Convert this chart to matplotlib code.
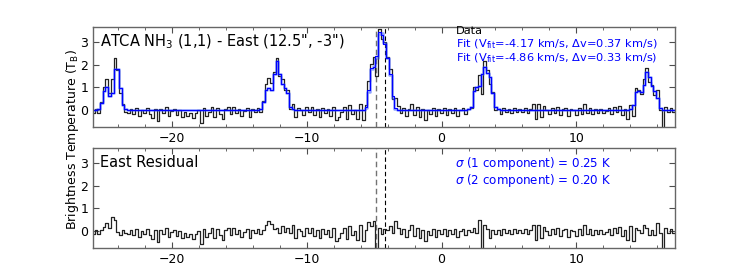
import numpy as np
import matplotlib
matplotlib.use("Agg")
import matplotlib.pyplot as plt
from matplotlib.ticker import MultipleLocator

# channel grid (km/s)
v_start = -25.8
v_step = 0.2
n_chan = 216

data = [
    -0.15, 0.02, -0.13, 0.35, 1.03, 1.35, 0.74, 1.37, 2.30, 1.75,
    0.75, 0.25, -0.08, -0.15, 0.05, -0.20, 0.10, -0.25, 0.00, -0.12,
    0.10, -0.18, -0.35, 0.02, -0.50, 0.05, -0.15, 0.12, -0.25, -0.05,
    0.05, -0.22, 0.00, -0.30, -0.10, -0.25, -0.12, -0.35, -0.15, 0.00,
    -0.60, 0.08, -0.25, -0.10, 0.12, -0.30, 0.10, -0.18, -0.40, 0.02,
    0.12, -0.20, 0.15, -0.12, 0.05, -0.25, -0.05, 0.10, -0.30, 0.05,
    -0.10, 0.10, -0.10, 0.40, 1.15, 1.40, 1.20, 1.70, 2.30, 1.50,
    1.35, 0.90, 0.90, 0.05, 0.27, -0.30, 0.08, 0.00, -0.22, 0.15,
    -0.10, 0.12, -0.22, 0.02, -0.30, 0.08, -0.15, 0.05, -0.25, 0.15,
    -0.45, -0.30, -0.10, 0.12, -0.38, 0.20, -0.20, 0.00, -0.40, 0.25,
    -0.45, 0.20, 1.30, 2.05, 2.35, 1.50, 3.60, 3.15, 3.00, 2.35,
    1.80, 0.50, 0.53, 0.16, -0.12, 0.08, -0.28, 0.02, 0.25, -0.22,
    0.12, -0.32, 0.05, -0.45, 0.00, -0.18, 0.08, -0.28, 0.02, -0.12,
    0.08, -0.22, 0.05, -0.12, 0.10, -0.28, 0.00, 0.08, -0.18, 0.05,
    0.10, 1.00, 0.90, 1.55, 0.70, 2.15, 1.75, 1.15, 0.80, 0.00,
    0.05, -0.18, 0.08, -0.10, 0.05, -0.15, 0.08, -0.10, 0.02, -0.08,
    0.08, -0.12, 0.02, 0.28, -0.40, 0.28, -0.32, 0.18, 0.00, -0.18,
    0.08, -0.12, 0.12, -0.22, 0.02, 0.08, -0.28, 0.05, 0.00, -0.22,
    0.10, -0.18, 0.28, -0.12, 0.08, -0.18, 0.02, -0.12, 0.05, -0.12,
    -0.05, 0.08, -0.18, 0.12, -0.10, 0.18, -0.22, 0.02, -0.40, 0.22,
    -0.25, 0.95, 0.90, 0.70, 1.35, 1.85, 1.25, 1.10, 0.65, 0.90,
    0.00, -0.89, 0.12, -0.10, 0.08, -0.10,
]

# one-component fit (V=-4.17 km/s)
fit1 = [
    0, 0, 0.02, 0.30, 0.85, 1.00, 0.62, 0.75, 1.80, 1.80,
    0.95, 0.20, 0.02, 0, 0, 0, 0, 0, 0, 0,
    0, 0, 0, 0, 0, 0, 0, 0, 0, 0,
    0, 0, 0, 0, 0, 0, 0, 0, 0, 0,
    0, 0, 0, 0, 0, 0, 0, 0, 0, 0,
    0, 0, 0, 0, 0, 0, 0, 0, 0, 0,
    0, 0, 0.02, 0.35, 0.90, 0.95, 0.90, 1.60, 2.15, 1.60,
    1.15, 0.95, 0.75, 0.15, 0.02, 0, 0, 0, 0, 0,
    0, 0, 0, 0, 0, 0, 0, 0, 0, 0,
    0, 0, 0, 0, 0, 0, 0, 0, 0, 0,
    0, 0.10, 0.80, 1.80, 1.95, 2.30, 3.35, 3.40, 2.95, 2.30,
    1.55, 0.55, 0.06, 0.01, 0, 0, 0, 0, 0, 0,
    0, 0, 0, 0, 0, 0, 0, 0, 0, 0,
    0, 0, 0, 0, 0, 0, 0, 0, 0, 0.02,
    0.15, 0.85, 1.00, 1.05, 1.60, 1.90, 1.65, 1.45, 0.75, 0.15,
    0.02, 0, 0, 0, 0, 0, 0, 0, 0, 0,
    0, 0, 0, 0, 0, 0, 0, 0, 0, 0,
    0, 0, 0, 0, 0, 0, 0, 0, 0, 0,
    0, 0, 0, 0, 0, 0, 0, 0, 0, 0,
    0, 0, 0, 0, 0, 0, 0, 0, 0, 0.02,
    0.20, 0.80, 0.85, 0.80, 1.10, 1.70, 1.45, 1.05, 0.85, 0.55,
    0.10, 0.01, 0, 0, 0, 0,
]

# two-component fit (V=-4.86 km/s)
fit2 = [
    0, 0, 0.02, 0.30, 0.85, 1.00, 0.62, 0.75, 1.80, 1.80,
    0.95, 0.20, 0.02, 0, 0, 0, 0, 0, 0, 0,
    0, 0, 0, 0, 0, 0, 0, 0, 0, 0,
    0, 0, 0, 0, 0, 0, 0, 0, 0, 0,
    0, 0, 0, 0, 0, 0, 0, 0, 0, 0,
    0, 0, 0, 0, 0, 0, 0, 0, 0, 0,
    0, 0, 0.02, 0.35, 0.90, 0.95, 0.90, 1.60, 2.15, 1.60,
    1.15, 0.95, 0.75, 0.15, 0.02, 0, 0, 0, 0, 0,
    0, 0, 0, 0, 0, 0, 0, 0, 0, 0,
    0, 0, 0, 0, 0, 0, 0, 0, 0, 0,
    0, 0.15, 0.90, 1.85, 1.90, 2.40, 3.45, 3.30, 2.90, 2.30,
    1.60, 0.60, 0.08, 0.01, 0, 0, 0, 0, 0, 0,
    0, 0, 0, 0, 0, 0, 0, 0, 0, 0,
    0, 0, 0, 0, 0, 0, 0, 0, 0, 0.02,
    0.15, 0.85, 1.00, 1.05, 1.60, 1.90, 1.65, 1.45, 0.75, 0.15,
    0.02, 0, 0, 0, 0, 0, 0, 0, 0, 0,
    0, 0, 0, 0, 0, 0, 0, 0, 0, 0,
    0, 0, 0, 0, 0, 0, 0, 0, 0, 0,
    0, 0, 0, 0, 0, 0, 0, 0, 0, 0,
    0, 0, 0, 0, 0, 0, 0, 0, 0, 0.02,
    0.20, 0.80, 0.85, 0.80, 1.10, 1.70, 1.45, 1.05, 0.85, 0.55,
    0.10, 0.01, 0, 0, 0, 0,
]

v_fit1 = -4.17
v_fit2 = -4.86
xlim = (-25.8, 17.3)
ylim = (-0.77, 3.66)

vel = v_start + v_step * np.arange(n_chan)
data_a = np.array(data)
fit1_a = np.array(fit1)
fit2_a = np.array(fit2)
resid = data_a - fit2_a

fig = plt.figure(figsize=(7.5, 2.77), dpi=100)
ax1 = fig.add_axes([0.1244, 0.5404, 0.7756, 0.361])
ax2 = fig.add_axes([0.1244, 0.1036, 0.7756, 0.361])

for ax in (ax1, ax2):
    ax.set_xlim(*xlim)
    ax.set_ylim(*ylim)
    ax.xaxis.set_major_locator(MultipleLocator(10))
    ax.xaxis.set_minor_locator(MultipleLocator(2))
    ax.yaxis.set_major_locator(MultipleLocator(1))
    ax.tick_params(which='both', direction='in', top=True, right=True,
                   color='0.3', labelsize=9)
    ax.tick_params(which='major', length=4, width=0.8)
    ax.tick_params(which='minor', length=2, width=0.6)
    for s in ax.spines.values():
        s.set_color('0.4')
        s.set_linewidth(1.0)
    ax.axvline(v_fit2, color='0.45', ls=(0, (4, 2.5)), lw=1.0)
    ax.axvline(v_fit1, color='black', ls=(0, (4, 2.5)), lw=0.8)

ax1.plot(vel, data_a, drawstyle='steps-mid', color='#222222', lw=0.9)
ax1.plot(vel, fit1_a, drawstyle='steps-mid', color='#3355ff', alpha=0.55, lw=1.8)
ax1.plot(vel, fit2_a, drawstyle='steps-mid', color='blue', lw=0.8)

ax2.plot(vel, resid, drawstyle='steps-mid', color='#222222', lw=0.9)

ax1.text(0.012, 0.853, 'ATCA NH$_3$ (1,1) - East (12.5", -3")',
         transform=ax1.transAxes, fontsize=10.5, va='center', ha='left')
ax1.text(0.623, 0.965, 'Data', transform=ax1.transAxes, fontsize=8.2,
         va='center', ha='left', color='black')
ax1.text(0.623, 0.83,
         'Fit (V$_{\\rm fit}$=-4.17 km/s, $\\Delta$v=0.37 km/s)',
         transform=ax1.transAxes, fontsize=8.2, va='center', ha='left', color='blue')
ax1.text(0.623, 0.695,
         'Fit (V$_{\\rm fit}$=-4.86 km/s, $\\Delta$v=0.33 km/s)',
         transform=ax1.transAxes, fontsize=8.2, va='center', ha='left', color='blue')

ax2.text(0.012, 0.863, 'East Residual', transform=ax2.transAxes,
         fontsize=10.5, va='center', ha='left')
ax2.text(0.756, 0.853, '$\\sigma$ (1 component) = 0.25 K',
         transform=ax2.transAxes, fontsize=8.6, va='center', ha='center', color='blue')
ax2.text(0.756, 0.683, '$\\sigma$ (2 component) = 0.20 K',
         transform=ax2.transAxes, fontsize=8.6, va='center', ha='center', color='blue')

fig.text(0.0967, 0.495, 'Brightness Temperature (T$_{\\rm B}$)', rotation=90,
         va='center', ha='center', fontsize=9)

fig.savefig('out.png', dpi=100)
